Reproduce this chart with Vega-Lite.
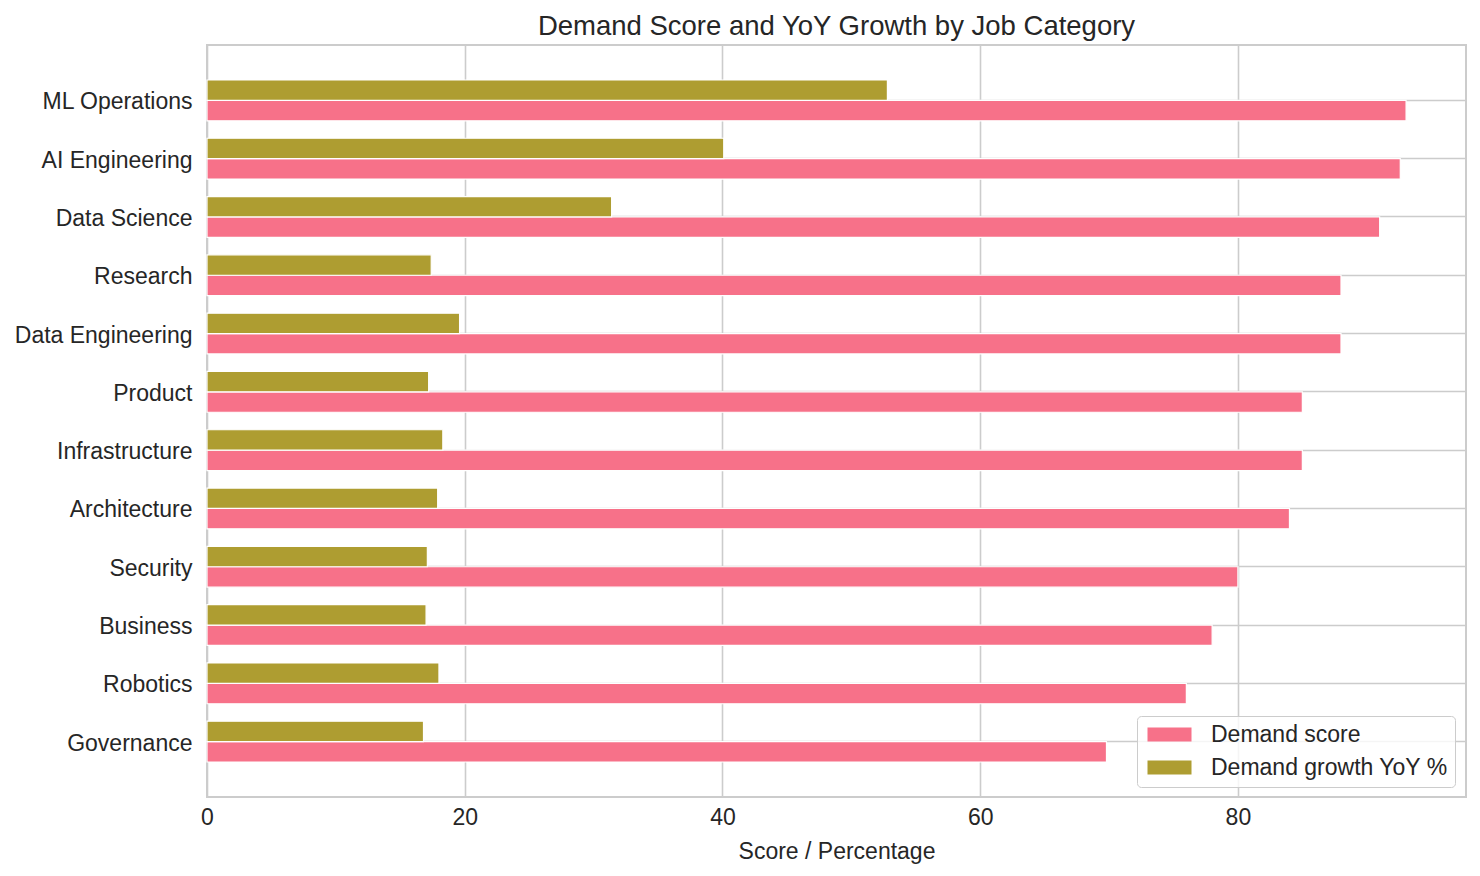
{
  "$schema": "https://vega.github.io/schema/vega-lite/v6.json",
  "width": 1259,
  "height": 752,
  "autosize": {"type": "none"},
  "padding": {"left": 207, "top": 45, "right": 14, "bottom": 79},
  "background": "white",
  "title": {
    "text": "Demand Score and YoY Growth by Job Category",
    "font": "Liberation Sans",
    "fontSize": 27.5,
    "fontWeight": "normal",
    "color": "#262626",
    "anchor": "middle",
    "offset": 5
  },
  "data": {
    "values": [
      {"category": "ML Operations", "metric": "Demand score", "value": 93.05},
      {"category": "ML Operations", "metric": "Demand growth YoY %", "value": 52.8},
      {"category": "AI Engineering", "metric": "Demand score", "value": 92.6},
      {"category": "AI Engineering", "metric": "Demand growth YoY %", "value": 40.1},
      {"category": "Data Science", "metric": "Demand score", "value": 91.0},
      {"category": "Data Science", "metric": "Demand growth YoY %", "value": 31.4},
      {"category": "Research", "metric": "Demand score", "value": 88.0},
      {"category": "Research", "metric": "Demand growth YoY %", "value": 17.4},
      {"category": "Data Engineering", "metric": "Demand score", "value": 88.0},
      {"category": "Data Engineering", "metric": "Demand growth YoY %", "value": 19.6},
      {"category": "Product", "metric": "Demand score", "value": 85.0},
      {"category": "Product", "metric": "Demand growth YoY %", "value": 17.2},
      {"category": "Infrastructure", "metric": "Demand score", "value": 85.0},
      {"category": "Infrastructure", "metric": "Demand growth YoY %", "value": 18.3},
      {"category": "Architecture", "metric": "Demand score", "value": 84.0},
      {"category": "Architecture", "metric": "Demand growth YoY %", "value": 17.9},
      {"category": "Security", "metric": "Demand score", "value": 80.0},
      {"category": "Security", "metric": "Demand growth YoY %", "value": 17.1},
      {"category": "Business", "metric": "Demand score", "value": 78.0},
      {"category": "Business", "metric": "Demand growth YoY %", "value": 17.0},
      {"category": "Robotics", "metric": "Demand score", "value": 76.0},
      {"category": "Robotics", "metric": "Demand growth YoY %", "value": 18.0},
      {"category": "Governance", "metric": "Demand score", "value": 69.8},
      {"category": "Governance", "metric": "Demand growth YoY %", "value": 16.8}
    ]
  },
  "mark": {"type": "bar", "stroke": "white", "strokeWidth": 1.2, "cornerRadius": 0},
  "encoding": {
    "y": {
      "field": "category",
      "type": "nominal",
      "sort": null,
      "scale": {"paddingInner": 0.3, "paddingOuter": 0.6},
      "axis": {
        "title": null,
        "ticks": false,
        "domain": false,
        "labelPadding": 15,
        "labelOffset": 2,
        "labelFontSize": 23,
        "labelFont": "Liberation Sans",
        "labelColor": "#262626",
        "grid": true,
        "bandPosition": 0.5,
        "gridColor": "#cccccc",
        "gridWidth": 1.6
      }
    },
    "yOffset": {
      "field": "metric",
      "type": "nominal",
      "scale": {"domain": ["Demand growth YoY %", "Demand score"], "paddingInner": 0, "paddingOuter": 0}
    },
    "x": {
      "field": "value",
      "type": "quantitative",
      "scale": {"domain": [0, 97.7], "nice": false, "zero": true},
      "axis": {
        "title": "Score / Percentage",
        "titleFont": "Liberation Sans",
        "titleFontSize": 23,
        "titleFontWeight": "normal",
        "titleColor": "#262626",
        "titlePadding": 11,
        "values": [0, 20, 40, 60, 80],
        "ticks": false,
        "domain": false,
        "labelPadding": 9,
        "labelFontSize": 23,
        "labelFont": "Liberation Sans",
        "labelColor": "#262626",
        "labelFlush": false,
        "grid": true,
        "gridColor": "#cccccc",
        "gridWidth": 1.6
      }
    },
    "color": {
      "field": "metric",
      "type": "nominal",
      "scale": {
        "domain": ["Demand score", "Demand growth YoY %"],
        "range": ["#f77189", "#ae9d31"]
      },
      "legend": {
        "title": null,
        "orient": "none",
        "legendX": 930,
        "legendY": 671,
        "fillColor": "rgba(255,255,255,0.8)",
        "strokeColor": "#cccccc",
        "cornerRadius": 4,
        "padding": 7,
        "symbolType": "M-2,-0.64L2,-0.64L2,0.64L-2,0.64Z",
        "symbolSize": 484,
        "symbolOffset": 14,
        "symbolStrokeWidth": 0,
        "symbolOpacity": 1,
        "labelFont": "Liberation Sans",
        "labelFontSize": 23,
        "labelColor": "#262626",
        "labelOffset": 30,
        "labelLimit": 400,
        "rowPadding": 9
      }
    }
  },
  "config": {
    "view": {"stroke": "#cccccc", "strokeWidth": 2}
  }
}
